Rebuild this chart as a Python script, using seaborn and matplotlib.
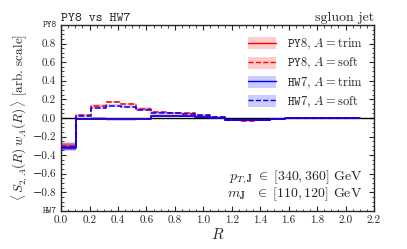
import numpy as np
import pandas as pd
import matplotlib
matplotlib.use("Agg")
import matplotlib.pyplot as plt
import seaborn as sns
from matplotlib.patches import Patch
from matplotlib.lines import Line2D

sns.set_style("ticks")
plt.rcParams["font.family"] = ["cmr10", "DejaVu Serif"]
plt.rcParams["mathtext.fontset"] = "cm"
plt.rcParams["axes.formatter.use_mathtext"] = True
plt.rcParams["axes.unicode_minus"] = True

# Data
edges = np.round(np.linspace(0, 2.1, 21), 4)
py8_trim = [-0.31, -0.01, -0.01, -0.012, -0.012, -0.01, 0.02, 0.02, 0.02, 0.01, 0.002, -0.02, -0.025, -0.02, -0.01, -0.005, -0.004, -0.003, -0.003, -0.003]
py8_soft = [-0.30, 0.03, 0.13, 0.17, 0.15, 0.10, 0.06, 0.055, 0.05, 0.02, 0.005, -0.02, -0.03, -0.025, -0.01, -0.005, -0.005, -0.003, -0.003, -0.003]
hw7_trim = [-0.32, -0.012, -0.01, -0.015, -0.015, -0.01, 0.025, 0.025, 0.02, 0.01, 0.0, -0.02, -0.02, -0.02, -0.01, -0.005, -0.004, -0.003, -0.003, -0.003]
hw7_soft = [-0.31, 0.025, 0.11, 0.13, 0.12, 0.09, 0.055, 0.05, 0.045, 0.03, 0.005, -0.02, -0.025, -0.02, -0.01, -0.005, -0.005, -0.003, -0.003, -0.003]
unc = [0.04, 0.01, 0.015, 0.015, 0.015, 0.012, 0.012, 0.012, 0.01, 0.01, 0.008, 0.01, 0.012, 0.01, 0.008, 0.006, 0.005, 0.005, 0.005, 0.005]

series = [
    ("py8_trim", py8_trim, "#ff0000", "-", r"$\mathtt{PY8}$, $A = \mathrm{trim}$"),
    ("py8_soft", py8_soft, "#ff0000", "--", r"$\mathtt{PY8}$, $A = \mathrm{soft}$"),
    ("hw7_trim", hw7_trim, "#0000ff", "-", r"$\mathtt{HW7}$, $A = \mathrm{trim}$"),
    ("hw7_soft", hw7_soft, "#0000ff", "--", r"$\mathtt{HW7}$, $A = \mathrm{soft}$"),
]

fig = plt.figure(figsize=(4.07, 2.49), dpi=100)
ax = fig.add_axes([0.150, 0.153, 0.769, 0.747])

ax.axhline(0, color="black", lw=1.0, zorder=1)

handles = []
for name, vals, col, ls, lab in series:
    v = np.array(vals + [vals[-1]])
    u = np.array(unc + [unc[-1]])
    ax.fill_between(edges, v - u, v + u, step="post", color=col, alpha=0.2, lw=0, zorder=2)
    df = pd.DataFrame({"R": edges, "val": v})
    sns.lineplot(data=df, x="R", y="val", ax=ax, color=col, linestyle=ls, lw=1.1,
                 drawstyle="steps-post", zorder=3)
    handles.append((Patch(facecolor=col, alpha=0.2, edgecolor="none"),
                    Line2D([], [], color=col, ls=ls, lw=1.0)))

ax.set_xlim(0, 2.2)
ax.set_ylim(-1, 1)
ax.set_xticks(np.arange(0, 2.21, 0.2))
ax.set_xticklabels([f"{t:.1f}" for t in np.arange(0, 2.21, 0.2)])
yt = np.arange(-0.8, 0.81, 0.2)
ax.set_yticks(yt)
ax.set_yticklabels([("\u2212" if t < -1e-9 else "") + f"{abs(t):.1f}" for t in yt])
ax.xaxis.set_minor_locator(matplotlib.ticker.MultipleLocator(0.05))
ax.yaxis.set_minor_locator(matplotlib.ticker.MultipleLocator(0.05))
ax.tick_params(which="both", direction="in", top=True, right=True, labelsize=8)
ax.tick_params(which="major", length=3.5, width=0.8)
ax.tick_params(which="minor", length=1.8, width=0.6)
for s in ax.spines.values():
    s.set_linewidth(1.0)

ax.set_xlabel(r"$R$", fontsize=11, labelpad=1)
ax.set_ylabel(r"$\langle\, S_{2,A}(R)\, w_A(R)\, \rangle$ [arb. scale]", fontsize=9.5, labelpad=2)

ax.text(-0.012, 1.0, "PY8", transform=ax.get_yaxis_transform(), ha="right", va="center",
        fontsize=6.5, family="cmtt10")
ax.text(-0.012, -1.0, "HW7", transform=ax.get_yaxis_transform(), ha="right", va="center",
        fontsize=6.5, family="cmtt10")

ax.set_title("PY8 vs HW7", loc="left", fontsize=9.5, family="cmtt10", pad=3)
ax.set_title("sgluon jet", loc="right", fontsize=10, pad=3)

ax.legend(handles=handles, labels=[s[4] for s in series], loc="upper right",
          frameon=False, fontsize=9, handlelength=2.2, handleheight=1.1,
          labelspacing=0.32, handletextpad=0.9, bbox_to_anchor=(1.0, 0.995))

ax.text(2.12, -0.64, r"$p_{T,\mathbf{J}}\;\in\;[340, 360]$ GeV", ha="right", va="center", fontsize=10)
ax.text(2.12, -0.82, r"$m_{\mathbf{J}}\;\;\;\in\;[110, 120]$ GeV", ha="right", va="center", fontsize=10)

fig.savefig("out.png", dpi=100)
